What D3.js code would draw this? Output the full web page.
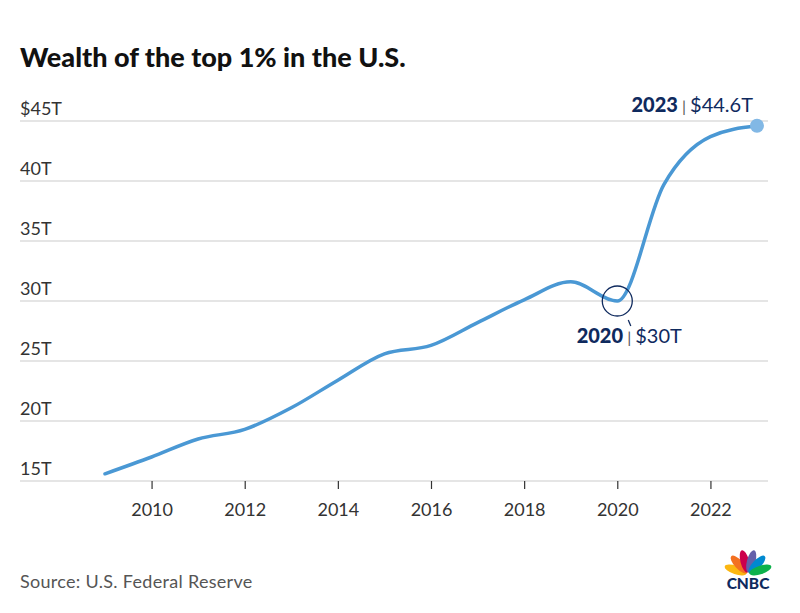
<!DOCTYPE html>
<html>
<head>
<meta charset="utf-8">
<script src="https://cdn.jsdelivr.net/npm/d3@7"></script>
<style>
  body { margin: 0; background: #fff; }
  text { font-family: "Lato", "Open Sans", sans-serif; }
</style>
</head>
<body>
<div id="chart"></div>
<script>
// values (trillions of dollars)
const years = [2009, 2010, 2011, 2012, 2013, 2014, 2015, 2016, 2017, 2018, 2019, 2020, 2021, 2022, 2023];
const wealth = [15.6, 17.0, 18.5, 19.3, 21.1, 23.4, 25.6, 26.3, 28.2, 30.1, 31.6, 30.0, 39.7, 43.7, 44.6];
const yTicks = [15, 20, 25, 30, 35, 40, 45];
const xTicks = [2010, 2012, 2014, 2016, 2018, 2020, 2022];

const width = 800, height = 613;
const margin = { top: 121, right: 32, bottom: 132, left: 20 };

const svg = d3.select("#chart").append("svg")
    .attr("width", width)
    .attr("height", height);

const x = d3.scaleLinear().domain([2009, 2023]).range([105, 757]);
const y = d3.scaleLinear().domain([15, 45]).range([height - margin.bottom, margin.top]);

svg.append("text")
    .attr("x", 20).attr("y", 67)
    .attr("font-size", 27).attr("font-weight", 900).attr("fill", "#111")
    .text("Wealth of the top 1% in the U.S.");

// gridlines + y labels
const grid = svg.append("g");
grid.selectAll("line").data(yTicks).enter().append("line")
    .attr("x1", margin.left).attr("x2", width - margin.right)
    .attr("y1", d => y(d)).attr("y2", d => y(d))
    .attr("stroke", "#dcdcdc").attr("stroke-width", 1.5);
grid.selectAll("text").data(yTicks).enter().append("text")
    .attr("x", margin.left).attr("y", d => y(d) - 6)
    .attr("font-size", 18).attr("fill", "#333")
    .text(d => d === 45 ? "$45T" : d + "T");

// x axis
const xAxis = svg.append("g")
    .attr("transform", `translate(0,${y(15)})`)
    .call(d3.axisBottom(x).tickValues(xTicks).tickFormat(d3.format("d")).tickSize(8).tickPadding(14));
xAxis.select(".domain").remove();
xAxis.selectAll(".tick line").attr("stroke", "#333").attr("stroke-width", 1.2);
xAxis.selectAll(".tick text")
    .attr("font-size", 18).attr("fill", "#333")
    .style("font-family", "Lato, 'Open Sans', sans-serif");

const points = years.map((d, i) => [d, wealth[i]]);
const line = d3.line().x(d => x(d[0])).y(d => y(d[1])).curve(d3.curveMonotoneX);

svg.append("path")
    .datum(points)
    .attr("d", line)
    .attr("fill", "none")
    .attr("stroke", "#4a98d4")
    .attr("stroke-width", 3.5)
    .attr("stroke-linecap", "round");

// 2023 end dot
const last = points[points.length - 1];
svg.append("circle")
    .attr("cx", x(last[0])).attr("cy", y(last[1])).attr("r", 7)
    .attr("fill", "#82b8e5");

const ann = svg.append("text")
    .attr("x", x(last[0]) - 4).attr("y", y(last[1]) - 14)
    .attr("text-anchor", "end").attr("font-size", 20).attr("fill", "#0f2a5e");
ann.append("tspan").attr("font-weight", 900).text("2023");
ann.append("tspan").attr("fill", "#555").attr("font-size", 16).text(" | ");
ann.append("tspan").text("$44.6T");

// 2020 circle
const p2020 = points[years.indexOf(2020)];
svg.append("circle")
    .attr("cx", x(p2020[0])).attr("cy", y(p2020[1])).attr("r", 15)
    .attr("fill", "none").attr("stroke", "#0f2a5e").attr("stroke-width", 1.3);
svg.append("line")
    .attr("x1", x(p2020[0]) + 11).attr("y1", y(p2020[1]) + 19)
    .attr("x2", x(p2020[0]) + 13.5).attr("y2", y(p2020[1]) + 25)
    .attr("stroke", "#0f2a5e").attr("stroke-width", 1.3);
const ann2 = svg.append("text")
    .attr("x", x(p2020[0]) + 12).attr("y", y(p2020[1]) + 42)
    .attr("text-anchor", "middle").attr("font-size", 20).attr("fill", "#0f2a5e");
ann2.append("tspan").attr("font-weight", 900).text("2020");
ann2.append("tspan").attr("fill", "#555").attr("font-size", 16).text(" | ");
ann2.append("tspan").text("$30T");

svg.append("text")
    .attr("x", 20).attr("y", 588)
    .attr("font-size", 18).attr("fill", "#555")
    .attr("letter-spacing", 0.3)
    .text("Source: U.S. Federal Reserve");

// CNBC logo
const logo = svg.append("g").attr("transform", "translate(748,574)");
const feathers = ["#fcb711", "#f37021", "#cc004c", "#6460aa", "#0089d0", "#0db14b"];
logo.selectAll("ellipse").data(feathers).enter().append("ellipse")
    .attr("cx", 0).attr("cy", -13).attr("rx", 4.3).attr("ry", 11.5)
    .attr("fill", d => d)
    .attr("transform", (d, i) => `rotate(${-72 + i * 28.8})`);
logo.append("text")
    .attr("x", 0).attr("y", 15)
    .attr("text-anchor", "middle").attr("font-size", 15.5).attr("font-weight", 900)
    .attr("fill", "#0f2a5e").text("CNBC");
</script>
</body>
</html>
